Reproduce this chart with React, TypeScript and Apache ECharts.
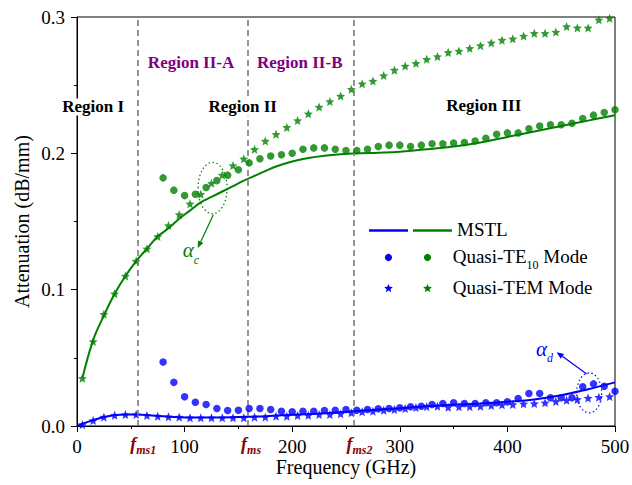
import React, { useEffect, useRef } from "react";
import * as echarts from "echarts";

const FONT = "Liberation Serif";
const GREEN = "#008000";
const BLUE = "#0000FF";
const PURPLE = "#800080";
const DARK_RED = "#8B0000";

const temFreq = [5, 15, 25, 35, 45, 55, 65, 75, 85, 95, 105, 115, 125, 135, 145, 155, 165, 175, 185, 195, 205, 215, 225, 235, 245, 255, 265, 275, 285, 295, 305, 315, 325, 335, 345, 355, 365, 375, 385, 395, 405, 415, 425, 435, 445, 455, 465, 475, 485, 495];
const temGreen = [0.035, 0.062, 0.082, 0.097, 0.110, 0.121, 0.130, 0.139, 0.147, 0.155, 0.163, 0.170, 0.178, 0.184, 0.191, 0.196, 0.203, 0.209, 0.214, 0.219, 0.224, 0.229, 0.234, 0.238, 0.242, 0.247, 0.251, 0.253, 0.257, 0.261, 0.264, 0.266, 0.269, 0.271, 0.274, 0.275, 0.277, 0.279, 0.281, 0.283, 0.284, 0.286, 0.288, 0.288, 0.289, 0.293, 0.292, 0.292, 0.298, 0.299];
const temBlue = [0.001, 0.004, 0.0065, 0.0079, 0.0084, 0.0084, 0.0077, 0.0072, 0.0067, 0.0065, 0.006, 0.006, 0.006, 0.006, 0.006, 0.006, 0.0065, 0.0065, 0.0072, 0.0072, 0.0077, 0.0079, 0.0084, 0.0084, 0.0089, 0.0097, 0.0104, 0.0108, 0.0116, 0.0121, 0.0128, 0.0136, 0.0142, 0.0145, 0.0138, 0.0141, 0.0142, 0.0145, 0.015, 0.0156, 0.0158, 0.0163, 0.0165, 0.017, 0.018, 0.0188, 0.0195, 0.0205, 0.021, 0.0216];

const teFreq = [80, 90, 100, 110, 120, 130, 140, 150, 160, 170, 180, 190, 200, 210, 220, 230, 240, 250, 260, 270, 280, 290, 300, 310, 320, 330, 340, 350, 360, 370, 380, 390, 400, 410, 420, 430, 440, 450, 460, 470, 480, 490, 500];
const teGreen = [0.182, 0.173, 0.169, 0.170, 0.175, 0.180, 0.184, 0.188, 0.193, 0.196, 0.198, 0.199, 0.200, 0.203, 0.204, 0.204, 0.203, 0.202, 0.202, 0.203, 0.205, 0.206, 0.206, 0.205, 0.206, 0.207, 0.207, 0.2075, 0.208, 0.209, 0.211, 0.214, 0.215, 0.215, 0.218, 0.220, 0.221, 0.221, 0.222, 0.2255, 0.228, 0.230, 0.232];
const teBlue = [0.047, 0.032, 0.0214, 0.0174, 0.0158, 0.0128, 0.0114, 0.0116, 0.0128, 0.0128, 0.0121, 0.0108, 0.0104, 0.0108, 0.0108, 0.0114, 0.0116, 0.0121, 0.0116, 0.0121, 0.0126, 0.0128, 0.0133, 0.0141, 0.0145, 0.0158, 0.0165, 0.017, 0.0165, 0.0165, 0.017, 0.017, 0.0177, 0.0201, 0.0238, 0.0238, 0.0207, 0.0207, 0.0207, 0.0287, 0.0309, 0.0292, 0.0255];

const mstlGreenFreq = [5, 15, 25, 35, 45, 55, 65, 75, 85, 95, 105, 115, 125, 135, 145, 155, 165, 175, 185, 200, 215, 230, 245, 260, 280, 300, 325, 350, 375, 400, 425, 450, 475, 500];
const mstlGreen = [0.035, 0.063, 0.081, 0.097, 0.110, 0.121, 0.130, 0.139, 0.145, 0.152, 0.158, 0.164, 0.168, 0.172, 0.176, 0.180, 0.1835, 0.187, 0.1903, 0.194, 0.1965, 0.1982, 0.1993, 0.2, 0.2005, 0.2012, 0.203, 0.205, 0.208, 0.212, 0.216, 0.220, 0.224, 0.228];
const mstlBlueFreq = [0, 10, 20, 30, 40, 50, 60, 75, 90, 110, 130, 150, 175, 200, 225, 250, 275, 300, 325, 350, 375, 400, 425, 450, 475, 500];
const mstlBlue = [0, 0.003, 0.0055, 0.0073, 0.0082, 0.0085, 0.0082, 0.0074, 0.0066, 0.0062, 0.0062, 0.0066, 0.0072, 0.0082, 0.0092, 0.0104, 0.0118, 0.013, 0.0145, 0.0155, 0.0165, 0.0178, 0.0195, 0.0225, 0.027, 0.032];

const boundaryFreqs = [56, 159, 257];
const boundarySubs = ["ms1", "ms", "ms2"];

const regionLabels = [
  { text: "Region I", x: 15, y: 0.234, color: "#000" },
  { text: "Region II", x: 154, y: 0.234, color: "#000" },
  { text: "Region III", x: 378, y: 0.235, color: "#000" },
  { text: "Region II-A", x: 106, y: 0.2668, color: PURPLE },
  { text: "Region II-B", x: 207, y: 0.2668, color: PURPLE },
];

function starPts(cx: number, cy: number, R: number, ratio: number): number[][] {
  const pts: number[][] = [];
  for (let i = 0; i < 10; i++) {
    const r = i % 2 === 0 ? R : R * ratio;
    const a = -Math.PI / 2 + (i * Math.PI) / 5;
    pts.push([cx + r * Math.cos(a), cy + r * Math.sin(a)]);
  }
  return pts;
}
const STAR_SYMBOL =
  "path://M" + starPts(10, 10, 10, 0.45).map((p) => `${p[0].toFixed(3)} ${p[1].toFixed(3)}`).join(" L") + " Z";

export default function App() {
  const ref = useRef<HTMLDivElement>(null);
  useEffect(() => {
    const chart = echarts.init(ref.current!, null, { renderer: "svg" });
    const zip = (xs: number[], ys: number[]) => xs.map((x, i) => [x, ys[i]]);
    const axisCommon = {
      type: "value",
      nameLocation: "middle",
      nameMoveOverlap: false,
      axisLine: { show: true, onZero: false, lineStyle: { color: "#000", width: 1 } },
      axisTick: { show: true, inside: false, length: 6, lineStyle: { color: "#000", width: 1 } },
      minorTick: { show: true, splitNumber: 2, length: 3, lineStyle: { color: "#000", width: 1 } },
      splitLine: { show: false },
      minorSplitLine: { show: false },
    };
    const tRich = { t: { fontFamily: FONT, fontSize: 19, color: "#000" } };
    const nRich = { t: { fontFamily: FONT, fontSize: 20, color: "#000" } };
    chart.setOption({
      animation: false,
      backgroundColor: "#fff",
      textStyle: { fontFamily: FONT },
      grid: {
        left: 77, right: 17, top: 17, bottom: 59,
        show: true, borderColor: "#000", borderWidth: 1,
        containLabel: false, outerBoundsMode: "none",
      },
      xAxis: {
        ...axisCommon,
        min: 0, max: 500, interval: 100,
        name: "{t|Frequency (GHz)}", nameGap: 31,
        nameTextStyle: { fontFamily: FONT, fontSize: 20, color: "#000", rich: nRich },
        axisLabel: { fontFamily: FONT, fontSize: 19, color: "#000", margin: 11, formatter: (v: number) => `{t|${v}}`, rich: tRich },
      },
      yAxis: {
        ...axisCommon,
        min: 0, max: 0.3, interval: 0.1,
        name: "{t|Attenuation (dB/mm)}", nameGap: 45, nameRotate: 90,
        nameTextStyle: { fontFamily: FONT, fontSize: 20, color: "#000", rich: nRich },
        axisLabel: { fontFamily: FONT, fontSize: 19, color: "#000", margin: 12, formatter: (v: number) => `{t|${v.toFixed(1)}}`, rich: tRich },
      },
      series: [
        {
          type: "line", name: "MSTL blue", data: zip(mstlBlueFreq, mstlBlue), smooth: 0.4,
          symbol: "none", lineStyle: { color: BLUE, width: 2 }, z: 3,
          markLine: {
            silent: true, symbol: ["none", "none"], label: { show: false },
            lineStyle: { color: "#7a7a7a", type: [6, 4], width: 1.6 },
            data: boundaryFreqs.map((f) => ({ xAxis: f })),
          },
        },
        {
          type: "line", name: "MSTL green", data: zip(mstlGreenFreq, mstlGreen), smooth: 0.4,
          symbol: "none", lineStyle: { color: GREEN, width: 2 }, z: 3,
        },
        { type: "scatter", name: "TEM blue", data: zip(temFreq, temBlue), symbol: STAR_SYMBOL, symbolSize: 9, itemStyle: { color: BLUE }, z: 4 },
        { type: "scatter", name: "TEM green", data: zip(temFreq, temGreen), symbol: STAR_SYMBOL, symbolSize: 9, itemStyle: { color: GREEN }, z: 4, clip: false },
        { type: "scatter", name: "TE10 blue", data: zip(teFreq, teBlue), symbol: "circle", symbolSize: 7.5, itemStyle: { color: BLUE }, z: 5 },
        { type: "scatter", name: "TE10 green", data: zip(teFreq, teGreen), symbol: "circle", symbolSize: 7.5, itemStyle: { color: GREEN }, z: 5 },
      ],
    });

    const px = (x: number, y: number) => chart.convertToPixel({ gridIndex: 0 }, [x, y]) as number[];
    const g: any[] = [];

    regionLabels.forEach((r) => {
      const [x, y] = px(r.x, r.y);
      g.push({
        type: "text", x, y, z: 100,
        style: {
          text: r.text, fill: r.color, fontFamily: FONT, fontSize: 17, fontWeight: "bold",
          align: "center", verticalAlign: "middle", backgroundColor: "#fff",
        },
      });
    });

    boundaryFreqs.forEach((f, i) => {
      const [bx] = px(f, 0);
      g.push({
        type: "text", x: bx - 7, y: 435, z: 100,
        style: {
          text: `{f|f}{s|${boundarySubs[i]}}`, align: "left", verticalAlign: "top",
          rich: {
            f: { fontSize: 18, fontStyle: "italic", fontWeight: "bold", fontFamily: FONT, fill: DARK_RED, lineHeight: 18, verticalAlign: "top" },
            s: { fontSize: 12, fontStyle: "italic", fontWeight: "bold", fontFamily: FONT, fill: DARK_RED, lineHeight: 12, padding: [9, 0, 0, 0], verticalAlign: "top" },
          },
        },
      });
    });

    const arrow = (a: number[], b: number[], color: string) => {
      const dx = b[0] - a[0], dy = b[1] - a[1];
      const L = Math.hypot(dx, dy);
      const ux = dx / L, uy = dy / L;
      const hl = 7, hw = 3;
      const bx = b[0] - ux * hl, by = b[1] - uy * hl;
      g.push({ type: "line", z: 100, shape: { x1: a[0], y1: a[1], x2: bx, y2: by }, style: { stroke: color, lineWidth: 1.2 } });
      g.push({
        type: "polygon", z: 100,
        shape: { points: [[b[0], b[1]], [bx - uy * hw, by + ux * hw], [bx + uy * hw, by - ux * hw]] },
        style: { fill: color },
      });
    };
    const ellipse = (c: number[], rx: number, ry: number, color: string) => {
      g.push({
        type: "ellipse", z: 100, shape: { cx: c[0], cy: c[1], rx, ry },
        style: { fill: "none", stroke: color, lineWidth: 1.2, lineDash: [1.5, 2.5] },
      });
    };
    const alpha = (pos: number[], sub: string, color: string, padTop: number) => {
      g.push({
        type: "text", x: pos[0], y: pos[1], z: 100,
        style: {
          text: `{a|α}{s|${sub}}`, align: "left", verticalAlign: "top",
          rich: {
            a: { fontSize: 21, fontStyle: "italic", fontFamily: FONT, fill: color, lineHeight: 20, verticalAlign: "top" },
            s: { fontSize: 12, fontStyle: "italic", fontFamily: FONT, fill: color, lineHeight: 12, padding: [padTop, 0, 0, 0], verticalAlign: "top" },
          },
        },
      });
    };

    ellipse(px(126, 0.1745), 14.5, 25.7, GREEN);
    arrow(px(126.7, 0.155), px(112.2, 0.1305), GREEN);
    alpha(px(98.2, 0.1366), "c", GREEN, 14);

    ellipse(px(476, 0.0243), 12.5, 20, BLUE);
    arrow(px(473.7, 0.0382), px(445.8, 0.0541), BLUE);
    alpha(px(426.6, 0.0641), "d", BLUE, 13);

    // legend
    const legRich = { n: { fontFamily: FONT, fontSize: 19, fill: "#000", lineHeight: 20, verticalAlign: "top" } };
    g.push({ type: "line", z: 100, shape: { x1: 369, y1: 230.5, x2: 408, y2: 230.5 }, style: { stroke: BLUE, lineWidth: 2.5 } });
    g.push({ type: "line", z: 100, shape: { x1: 413, y1: 230.5, x2: 452, y2: 230.5 }, style: { stroke: GREEN, lineWidth: 2.5 } });
    g.push({ type: "text", z: 100, x: 457, y: 220, style: { text: "{n|MSTL}", rich: legRich, align: "left", verticalAlign: "top" } });
    g.push({ type: "circle", z: 100, shape: { cx: 388.5, cy: 257.5, r: 3.6 }, style: { fill: BLUE } });
    g.push({ type: "circle", z: 100, shape: { cx: 427.5, cy: 257.5, r: 3.6 }, style: { fill: GREEN } });
    g.push({
      type: "text", z: 100, x: 452.7, y: 247,
      style: {
        text: "{n|Quasi-TE}{s|10}{n| Mode}", align: "left", verticalAlign: "top",
        rich: {
          ...legRich,
          s: { fontFamily: FONT, fontSize: 12, fill: "#000", lineHeight: 12, padding: [12, 0, 0, 0], verticalAlign: "top" },
        },
      },
    });
    g.push({ type: "polygon", z: 100, shape: { points: starPts(388.5, 288.5, 4.6, 0.45) }, style: { fill: BLUE } });
    g.push({ type: "polygon", z: 100, shape: { points: starPts(427.5, 288.5, 4.6, 0.45) }, style: { fill: GREEN } });
    g.push({ type: "text", z: 100, x: 452.7, y: 278, style: { text: "{n|Quasi-TEM Mode}", rich: legRich, align: "left", verticalAlign: "top" } });

    chart.setOption({ graphic: g });
    return () => chart.dispose();
  }, []);
  return <div ref={ref} style={{ position: "absolute", left: 0, top: 0, width: 632, height: 485 }} />;
}
